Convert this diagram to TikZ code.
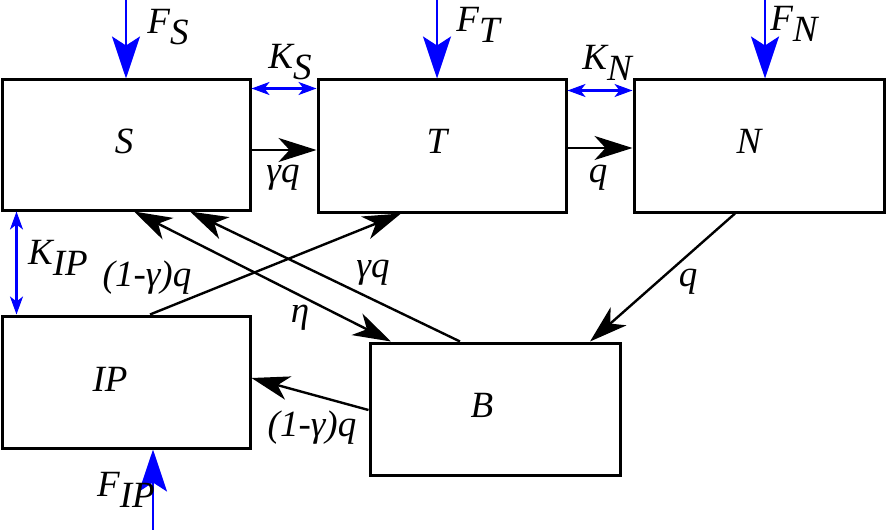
\documentclass[tikz,border=0pt]{standalone}
\usepackage{fontspec}
\setmainfont{Liberation Serif}
\usetikzlibrary{arrows.meta}

\newcommand{\sbs}[2]{#1\raisebox{-11pt}{#2}}

\tikzset{
  box/.style={draw,line width=3pt,minimum width=248pt,minimum height=130pt,inner sep=0pt},
  flow/.style={line width=2.4pt,-{Stealth[length=38pt,width=24pt,inset=11pt]}},
  feed/.style={blue,line width=2.4pt,-{Stealth[length=42pt,width=28pt,inset=9pt]}},
  mix/.style={blue,line width=2.2pt,{Stealth[length=18pt,width=13pt,inset=5pt]}-{Stealth[length=18pt,width=13pt,inset=5pt]}},
  lbl/.style={inner sep=0pt}
}

\begin{document}
\begin{tikzpicture}[x=1pt,y=-1pt,font=\fontsize{37}{44}\selectfont\itshape]
\useasboundingbox (0,0) rectangle (888,532);

   \node[box] at (126,145) (S) {};
   \node[box,minimum height=132pt] at (442,146) (T) {};
   \node[box,minimum height=132pt,minimum width=250pt] at (759,146) (N) {};
   \node[box,minimum height=132pt] at (126,382) (IP) {};
   \node[box,minimum height=132pt,minimum width=250pt] at (495,409) (B) {};

   % box names
   \node[lbl] at (124,141) (Sname) {S};
   \node[lbl] at (437,141) (Tname) {T};
   \node[lbl] at (749,141) (Nname) {N};
   \node[lbl] at (110,379) (IPname) {IP};
   \node[lbl] at (482,405) (Bname) {B};

   % feeds
   \draw[feed] ([yshift=80pt]S.north) -- (S.north);
   \draw[feed] ([xshift=-5pt,yshift=80pt]T.north) -- ([xshift=-5pt]T.north);
   \draw[feed] ([xshift=6pt,yshift=80pt]N.north) -- ([xshift=6pt]N.north);
   \draw[feed] ([xshift=27pt,yshift=-80pt]IP.south) -- ([xshift=27pt]IP.south);
   \node[lbl] at (168,27) (FS) {\sbs{F}{S}};
   \node[lbl] at (478,25) (FT) {\sbs{F}{T}};
   \node[lbl] at (794,24) (FN) {\sbs{F}{N}};
   \node[lbl] at (126,490) (FIP) {\sbs{F}{IP}};

   % mixing
   \draw[mix] ([yshift=-10pt]S.north east) -- ([yshift=-10pt]T.north west);
   \draw[mix] ([yshift=-12pt]T.north east) -- ([yshift=-12pt]N.north west);
   \draw[mix] ([xshift=16pt]S.south west) -- ([xshift=16pt]IP.north west);
   \node[lbl] at (290,62) (KS) {\sbs{K}{S}};
   \node[lbl] at (607,63) (KN) {\sbs{K}{N}};
   \node[lbl] at (58,258) (KIP) {\sbs{K}{IP}};

   % flows
   \draw[flow] ([yshift=-5pt]S.east) -- ([yshift=-4pt]T.west);
   \node[lbl] at (283,178) {γq};
   \draw[flow] ([yshift=-2pt]T.east) -- ([yshift=-2pt]N.west);
   \node[lbl] at (598,178) {q};
   \draw[flow] ([xshift=-24pt]N.south) -- ([xshift=95pt]B.north);
   \node[lbl] at (688,282) {q};
   \draw[flow] ([xshift=-35pt]B.north) -- ([xshift=64pt]S.south);
   \node[lbl] at (373,273) {γq};
   \draw[flow,{Stealth[length=38pt,width=24pt,inset=11pt]}-{Stealth[length=38pt,width=24pt,inset=11pt]}] ([xshift=8pt]S.south) -- ([xshift=-104pt]B.north);
   \node[lbl] at (300,318) {η};
   \draw[flow] ([xshift=24pt]IP.north) -- ([xshift=-41pt]T.south);
   \node[lbl] at (147,278) {(1-γ)q};
   \draw[flow] ([yshift=-1pt]B.west) -- ([yshift=4pt]IP.east);
   \node[lbl] at (312,428) {(1-γ)q};

\end{tikzpicture}
\end{document}
